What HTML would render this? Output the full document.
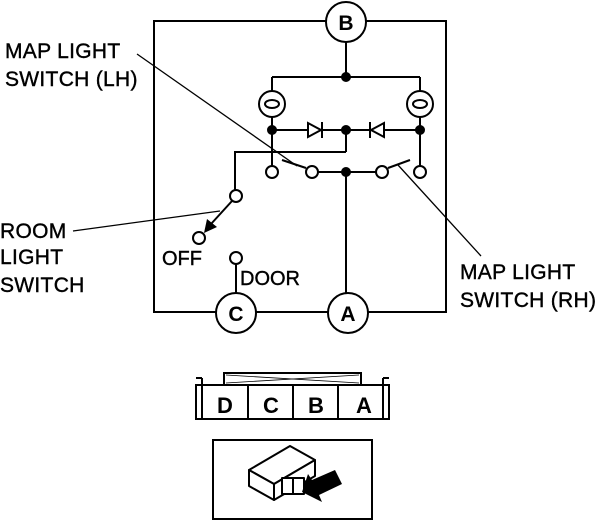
<!DOCTYPE html>
<html><head><meta charset="utf-8"><style>
html,body{margin:0;padding:0;background:#fff;}
svg{display:block;}
text{font-family:"Liberation Sans",sans-serif;fill:#000;}
.lb{font-size:21px;letter-spacing:0.3px;stroke:#000;stroke-width:0.4px;}
.sm{font-size:20px;stroke:#000;stroke-width:0.4px;}
.cl{font-size:21px;font-weight:bold;}
</style></head><body>
<svg width="607" height="521" viewBox="0 0 607 521" xmlns="http://www.w3.org/2000/svg">
<g stroke="#000" stroke-width="2" fill="none">
<rect x="154" y="21" width="292" height="291"/>
<line x1="346" y1="42" x2="346" y2="77"/>
<line x1="272" y1="77" x2="420" y2="77"/>
<line x1="272" y1="77" x2="272" y2="166"/>
<line x1="420" y1="77" x2="420" y2="166"/>
<line x1="272" y1="130" x2="420" y2="130"/>
<line x1="346" y1="130" x2="346" y2="152"/>
<polyline points="346,152 235,152 235,190"/>
<line x1="318" y1="172" x2="376" y2="172"/>
<line x1="346" y1="172" x2="346" y2="293"/>
<line x1="282" y1="160" x2="306" y2="168"/>
<line x1="388" y1="168" x2="410" y2="160"/>
<line x1="236" y1="264" x2="236" y2="293"/>
</g>
<g stroke="#000" stroke-width="2" fill="#fff">
<circle cx="346" cy="22" r="20"/>
<circle cx="236" cy="313" r="20"/>
<circle cx="348" cy="313" r="20"/>
<circle cx="272" cy="104" r="13"/>
<circle cx="420" cy="104" r="13"/>
<ellipse cx="272" cy="104" rx="7" ry="4"/>
<ellipse cx="420" cy="104" rx="7" ry="4"/>
<circle cx="272" cy="172" r="6"/>
<circle cx="312" cy="172" r="6"/>
<circle cx="382" cy="172" r="6"/>
<circle cx="420" cy="172" r="6"/>
<circle cx="236" cy="196" r="6"/>
<circle cx="199" cy="238" r="6"/>
<circle cx="236" cy="258" r="6"/>
</g>
<g fill="#000">
<circle cx="346" cy="77" r="5"/>
<circle cx="272" cy="130" r="5"/>
<circle cx="346" cy="130" r="5"/>
<circle cx="420" cy="130" r="5"/>
<circle cx="346" cy="172" r="5"/>
</g>
<g stroke="#000" stroke-width="2" fill="#fff">
<polygon points="308,123 308,137 321,130"/>
<polygon points="384,123 384,137 371,130"/>
</g>
<g stroke="#000" stroke-width="2">
<line x1="322" y1="122" x2="322" y2="138"/>
<line x1="370" y1="122" x2="370" y2="138"/>
<line x1="232" y1="201" x2="211" y2="224"/>
</g>
<polygon points="204,233 207,219 217,227" fill="#000"/>
<g stroke="#000" stroke-width="1.3">
<line x1="137" y1="54" x2="297" y2="166"/>
<line x1="398" y1="165" x2="481" y2="256"/>
<line x1="73" y1="231" x2="220" y2="211"/>
</g>
<text class="lb" x="5" y="58">MAP LIGHT</text>
<text class="lb" x="5" y="86">SWITCH (LH)</text>
<text class="lb" x="0" y="238">ROOM</text>
<text class="lb" x="0" y="264">LIGHT</text>
<text class="lb" x="0" y="292">SWITCH</text>
<text class="lb" x="460" y="279">MAP LIGHT</text>
<text class="lb" x="460" y="307">SWITCH (RH)</text>
<text class="sm" x="162" y="265">OFF</text>
<text class="sm" x="240" y="285">DOOR</text>
<g text-anchor="middle">
<text class="cl" x="346" y="30">B</text>
<text class="cl" x="236" y="321">C</text>
<text class="cl" x="348" y="321">A</text>
</g>
<g stroke="#000" stroke-width="2" fill="none">
<rect x="224" y="373" width="137" height="12"/>
<rect x="196" y="385" width="193" height="34"/>
<line x1="202" y1="378" x2="202" y2="419"/>
<line x1="383" y1="378" x2="383" y2="419"/>
<line x1="196" y1="378" x2="202" y2="378"/>
<line x1="383" y1="378" x2="389" y2="378"/>
<line x1="248" y1="385" x2="248" y2="419"/>
<line x1="293" y1="385" x2="293" y2="419"/>
<line x1="338" y1="385" x2="338" y2="419"/>
</g>
<g stroke="#000" stroke-width="0.8">
<line x1="226" y1="375" x2="359" y2="383"/>
<line x1="226" y1="383" x2="359" y2="375"/>
</g>
<g text-anchor="middle">
<text class="cl" x="225" y="413" style="font-size:22px">D</text>
<text class="cl" x="271" y="413" style="font-size:22px">C</text>
<text class="cl" x="316" y="413" style="font-size:22px">B</text>
<text class="cl" x="364" y="413" style="font-size:22px">A</text>
</g>
<rect x="213" y="440" width="159" height="79" stroke="#000" stroke-width="2" fill="none"/>
<g stroke="#000" stroke-width="2" fill="#fff" stroke-linejoin="round">
<polygon points="249,470 290,446 315,460 274,484"/>
<polygon points="249,470 274,484 274,500 249,486"/>
<polygon points="274,484 315,460 315,476 274,500"/>
<rect x="282" y="478" width="22" height="16"/>
<line x1="293" y1="478" x2="293" y2="494"/>
</g>
<polygon points="302,492 308,474 312,480 335,470 342,484 319,495 322,502" fill="#000"/>
</svg>
</body></html>
